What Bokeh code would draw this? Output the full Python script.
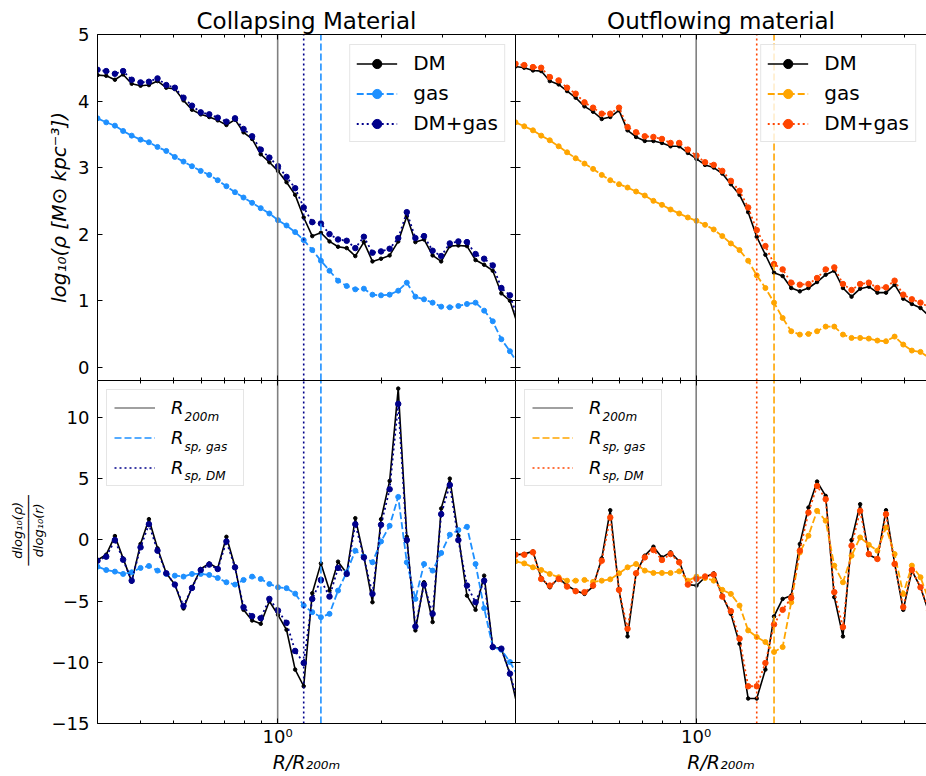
from bokeh.core.properties import value
from bokeh.embed import file_html
from bokeh.layouts import column, row
from bokeh.models import (FixedTicker, Grid, Label, Legend, LegendItem, LinearAxis,
                          LogAxis, Range1d)
from bokeh.plotting import figure
from bokeh.resources import INLINE

FONT = "DejaVu Sans"

# radial bins, R / R200m
r_bins = [0.300, 0.318, 0.337, 0.356, 0.377, 0.400, 0.423, 0.448, 0.475, 0.503,
          0.533, 0.564, 0.598, 0.633, 0.670, 0.710, 0.752, 0.796, 0.843, 0.893,
          0.946, 1.002, 1.061, 1.124, 1.190, 1.260, 1.335, 1.414, 1.497, 1.586,
          1.680, 1.779, 1.884, 1.995, 2.113, 2.238, 2.370, 2.510, 2.659, 2.816,
          2.982, 3.159, 3.345, 3.543, 3.752, 3.974, 4.209, 4.458, 4.721, 5.000]

# collapsing material: log10 density
dm_col_rho = [4.39, 4.38, 4.32, 4.40, 4.26, 4.23, 4.24, 4.30, 4.20, 4.18,
              4.01, 3.87, 3.80, 3.76, 3.71, 3.64, 3.72, 3.53, 3.43, 3.20,
              3.08, 2.95, 2.78, 2.59, 2.25, 1.97, 2.02, 1.89, 1.81, 1.79,
              1.67, 1.88, 1.59, 1.63, 1.68, 1.89, 2.27, 1.88, 1.92, 1.68,
              1.59, 1.82, 1.83, 1.82, 1.61, 1.54, 1.45, 1.11, 1.00, 0.60]
gas_col_rho = [3.74, 3.68, 3.63, 3.55, 3.48, 3.42, 3.38, 3.31, 3.25, 3.16,
               3.09, 3.02, 2.95, 2.89, 2.81, 2.72, 2.63, 2.55, 2.47, 2.39,
               2.31, 2.21, 2.13, 2.03, 1.91, 1.76, 1.60, 1.45, 1.30, 1.22,
               1.17, 1.18, 1.09, 1.08, 1.09, 1.15, 1.27, 1.06, 1.02, 0.97,
               0.91, 0.90, 0.92, 0.95, 0.97, 0.85, 0.69, 0.42, 0.24, 0.04]
dmgas_col_rho = [4.47, 4.45, 4.41, 4.45, 4.32, 4.28, 4.29, 4.34, 4.24, 4.20,
                 4.05, 3.93, 3.83, 3.80, 3.75, 3.69, 3.74, 3.58, 3.47, 3.27,
                 3.15, 3.02, 2.86, 2.69, 2.40, 2.18, 2.16, 2.00, 1.92, 1.90,
                 1.79, 1.96, 1.72, 1.74, 1.78, 1.94, 2.33, 1.94, 1.97, 1.75,
                 1.67, 1.86, 1.89, 1.88, 1.70, 1.63, 1.53, 1.19, 1.08, 0.70]

# collapsing material: logarithmic slope
dm_col_slope = [-1.65, -1.22, 0.30, -1.52, -3.42, -0.35, 1.68, -0.70, -2.74, -3.66,
                -5.61, -3.88, -2.39, -1.93, -2.33, 0.24, -2.20, -5.72, -6.59, -6.86,
                -5.02, -6.13, -7.35, -10.60, -11.96, -4.37, -1.93, -4.15, -1.79, -2.74,
                1.76, -1.38, -5.10, 1.68, 4.80, 12.34, 0.24, -7.40, -3.47, -6.72,
                2.55, 4.99, 0.33, -4.56, -5.72, -2.93, -8.76, -8.89, -10.93, -14.0]
gas_col_slope = [-2.20, -2.47, -2.60, -2.79, -2.66, -2.30, -2.14, -2.52, -2.79, -2.93,
                 -3.01, -2.79, -2.79, -2.87, -3.12, -3.47, -3.66, -3.28, -3.01, -3.20,
                 -3.61, -3.88, -3.95, -4.40, -5.37, -5.91, -6.32, -6.05, -4.15, -2.66,
                 -0.89, -1.38, -1.84, -0.14, 1.14, 3.50, -1.84, -4.83, -1.98, -2.52,
                 -1.08, 0.41, 0.79, 1.06, -1.98, -5.59, -8.76, -8.98, -9.98, -11.2]
dmgas_col_slope = [-1.71, -1.38, -0.03, -1.63, -3.34, -0.62, 1.27, -0.89, -2.74, -3.66,
                   -5.40, -3.93, -2.47, -2.03, -2.39, -0.14, -2.25, -5.50, -6.24, -6.40,
                   -4.83, -5.78, -6.78, -9.08, -10.06, -4.83, -3.28, -4.64, -2.30, -2.79,
                   1.27, -1.44, -4.42, 1.22, 4.12, 11.09, -0.03, -7.08, -3.66, -6.05,
                   2.09, 4.47, -0.03, -3.74, -5.10, -3.34, -8.76, -8.89, -10.93, -13.5]

# outflowing material: log10 density
dm_out_rho = [4.52, 4.50, 4.46, 4.45, 4.30, 4.25, 4.15, 4.05, 3.92, 3.84,
              3.73, 3.76, 3.86, 3.56, 3.46, 3.40, 3.40, 3.37, 3.32, 3.32,
              3.22, 3.13, 3.04, 3.00, 2.91, 2.75, 2.59, 2.33, 1.96, 1.69,
              1.42, 1.37, 1.19, 1.14, 1.19, 1.28, 1.39, 1.45, 1.19, 1.06,
              1.18, 1.21, 1.12, 1.12, 1.24, 1.03, 0.95, 0.89, 0.77, 0.70]
gas_out_rho = [3.68, 3.62, 3.56, 3.48, 3.41, 3.32, 3.23, 3.14, 3.06, 2.98,
               2.89, 2.81, 2.75, 2.70, 2.64, 2.58, 2.50, 2.44, 2.37, 2.31,
               2.25, 2.20, 2.14, 2.07, 1.97, 1.86, 1.76, 1.60, 1.38, 1.19,
               0.97, 0.74, 0.54, 0.49, 0.50, 0.54, 0.61, 0.61, 0.49, 0.44,
               0.44, 0.43, 0.40, 0.39, 0.46, 0.34, 0.25, 0.23, 0.14, 0.08]
dmgas_out_rho = [4.56, 4.54, 4.51, 4.50, 4.36, 4.31, 4.20, 4.11, 3.98, 3.90,
                 3.81, 3.81, 3.90, 3.61, 3.53, 3.47, 3.46, 3.43, 3.37, 3.37,
                 3.27, 3.18, 3.08, 3.04, 2.95, 2.80, 2.65, 2.40, 2.06, 1.82,
                 1.55, 1.47, 1.27, 1.24, 1.25, 1.34, 1.47, 1.50, 1.25, 1.16,
                 1.25, 1.27, 1.19, 1.20, 1.30, 1.09, 1.02, 0.97, 0.90, 0.82]

# outflowing material: logarithmic slope
dm_out_slope = [-1.22, -1.17, -0.95, -3.12, -3.88, -3.12, -3.74, -4.15, -4.42, -3.82,
                -1.52, 2.41, -4.15, -7.89, -2.74, -1.30, -0.57, -1.44, -1.03, -1.76,
                -3.66, -3.74, -3.06, -2.74, -4.56, -6.05, -8.49, -12.96, -12.96, -10.60,
                -6.26, -4.83, -4.56, -0.35, 2.63, 4.75, 3.58, -4.69, -7.89, -0.03,
                2.90, -1.22, -1.57, 2.41, -1.93, -5.72, -2.52, -3.88, -6.0, -6.5]
gas_out_slope = [-1.76, -1.93, -2.25, -2.47, -2.79, -3.06, -3.34, -3.34, -3.28, -3.44,
                 -3.34, -3.23, -2.74, -2.25, -1.98, -2.52, -2.71, -2.71, -2.71, -2.58,
                 -3.34, -3.01, -3.12, -3.34, -4.09, -4.42, -5.37, -7.40, -7.94, -8.35,
                 -9.16, -8.76, -5.10, -1.03, 0.33, 2.36, 1.55, -2.11, -3.47, -1.30,
                 0.19, -0.41, -0.89, 1.00, -1.17, -4.42, -2.11, -3.06, -5.0, -5.5]
dmgas_out_slope = [-1.22, -1.22, -1.03, -3.20, -3.74, -3.20, -3.82, -4.20, -4.28, -3.74,
                   -1.71, 1.82, -4.09, -7.27, -2.74, -1.44, -0.84, -1.65, -1.17, -1.84,
                   -3.66, -3.20, -3.00, -2.85, -4.64, -5.83, -8.08, -11.96, -11.96, -10.06,
                   -6.91, -5.72, -4.75, -0.89, 2.22, 4.39, 3.31, -4.28, -7.13, -0.49,
                   2.36, -1.17, -1.57, 2.09, -1.98, -5.50, -2.47, -3.88, -5.8, -6.3]

# characteristic radii, R / R200m
R200M = 1.0
RSP_GAS_COL = 1.335
RSP_DM_COL = 1.19
RSP_GAS_OUT = 1.68
RSP_DM_OUT = 1.497

X_MAJOR = [1.0]
X_MINOR = [0.3, 0.4, 0.5, 0.6, 0.7, 0.8, 0.9, 2.0, 3.0, 4.0]
RHO_TICKS = [0, 1, 2, 3, 4, 5]
SLOPE_TICKS = [-15, -10, -5, 0, 5, 10]
RHO_LIM = (-0.2, 5.0)
SLOPE_LIM = (-15.0, 13.0)

COLORS_COL = {"gas": "#1e90ff", "dmgas": "#00008b"}
COLORS_OUT = {"gas": "#ffa500", "dmgas": "#ff4500"}

# page geometry (px)
LEFT_W, RIGHT_W = 515, 411
TOP_H, BOTTOM_H = 380, 396
FRAC_W = 48


def no_grid(p):
    for g in p.select(type=Grid):
        g.visible = False


def style_ticks(ax, show_labels):
    ax.axis_line_color = "black"
    ax.axis_line_width = 1
    ax.major_tick_line_color = "black"
    ax.minor_tick_line_color = "black"
    ax.major_tick_in = 5
    ax.major_tick_out = 0
    ax.minor_tick_in = 3
    ax.minor_tick_out = 0
    ax.major_label_text_font = FONT
    ax.major_label_text_color = "black"
    if show_labels:
        ax.major_label_text_font_size = "18px"
    else:
        # tick marks only: tiny, fully transparent labels
        ax.major_label_text_font_size = "1px"
        ax.major_label_text_alpha = 0
        ax.major_label_standoff = 0


def x_axis(show_labels):
    ax = LogAxis(ticker=FixedTicker(ticks=X_MAJOR, minor_ticks=X_MINOR))
    style_ticks(ax, show_labels)
    ax.major_label_overrides = {1.0: "10\u2070"}
    if show_labels:
        ax.major_label_standoff = 2
        ax.axis_label = "R/R\u2082\u2080\u2080\u2098"
        ax.axis_label_text_font = FONT
        ax.axis_label_text_font_size = "19px"
        ax.axis_label_text_font_style = "italic"
        ax.axis_label_text_color = "black"
        ax.axis_label_standoff = 1
    return ax


def y_axis(ticks, show_labels):
    ax = LinearAxis(ticker=FixedTicker(ticks=ticks))
    style_ticks(ax, show_labels)
    ax.minor_tick_line_color = None
    ax.major_label_overrides = {float(t): str(t).replace("-", "\u2212") for t in ticks if t < 0}
    if show_labels:
        ax.major_label_standoff = 8
    return ax


def make_panel(width, height, x_end, ylim, yticks, left, top, bottom,
               left_labels, bottom_labels, right_axis):
    p = figure(width=width, height=height, x_axis_type="log",
               x_range=Range1d(0.3, x_end), y_range=Range1d(*ylim),
               x_axis_location=None, y_axis_location=None,
               toolbar_location=None, tools="", output_backend="svg",
               min_border=0, min_border_left=left, min_border_right=0,
               min_border_top=top, min_border_bottom=bottom)
    p.outline_line_color = None
    p.background_fill_color = "white"
    p.border_fill_color = "white"
    no_grid(p)
    p.add_layout(x_axis(bottom_labels), "below")
    p.add_layout(x_axis(False), "above")
    p.add_layout(y_axis(yticks, left_labels), "left")
    if right_axis:
        p.add_layout(y_axis(yticks, False), "right")
    return p


def text_strip(width, height):
    # bare canvas whose data units are pixels, used for an out-of-frame title
    p = figure(width=width, height=height, x_range=Range1d(0, width),
               y_range=Range1d(0, height), x_axis_location=None, y_axis_location=None,
               toolbar_location=None, tools="", output_backend="svg", min_border=0,
               title=None)
    p.outline_line_color = None
    p.background_fill_color = "white"
    p.border_fill_color = "white"
    no_grid(p)
    return p


def draw_series(p, dm, gas, dmgas, colors):
    l1 = p.line(r_bins, dm, line_color="black", line_width=1.6)
    s1 = p.scatter(r_bins, dm, size=3.5, fill_color="black", line_color="black")
    l2 = p.line(r_bins, gas, line_color=colors["gas"], line_width=1.8, line_dash="7 3")
    s2 = p.scatter(r_bins, gas, size=5, fill_color=colors["gas"], line_color=colors["gas"])
    l3 = p.line(r_bins, dmgas, line_color=colors["dmgas"], line_width=1.8, line_dash="2 3")
    s3 = p.scatter(r_bins, dmgas, size=5.5, fill_color=colors["dmgas"], line_color=colors["dmgas"])
    return [LegendItem(label=value("DM"), renderers=[l1, s1]),
            LegendItem(label=value("gas"), renderers=[l2, s2]),
            LegendItem(label=value("DM+gas"), renderers=[l3, s3])]


def draw_radii(p, ylim, rsp_gas, rsp_dm, colors):
    g0 = p.segment(x0=[R200M], y0=[ylim[0]], x1=[R200M], y1=[ylim[1]],
                   line_color="gray", line_width=1.6)
    g1 = p.segment(x0=[rsp_gas], y0=[ylim[0]], x1=[rsp_gas], y1=[ylim[1]],
                   line_color=colors["gas"], line_width=1.6, line_dash="7 3")
    g2 = p.segment(x0=[rsp_dm], y0=[ylim[0]], x1=[rsp_dm], y1=[ylim[1]],
                   line_color=colors["dmgas"], line_width=1.6, line_dash="2 3")
    return [g0, g1, g2]


def legend_style(leg):
    leg.border_line_color = "#cccccc"
    leg.border_line_width = 1
    leg.background_fill_color = "white"
    leg.background_fill_alpha = 0.8
    leg.glyph_width = 41
    leg.label_standoff = 16
    leg.label_text_font = FONT
    leg.label_text_color = "black"


def density_legend(p, items, margin):
    leg = Legend(items=items, location="top_right", margin=margin, padding=6,
                 spacing=6, glyph_height=23, label_height=23)
    legend_style(leg)
    leg.label_text_font_size = "20px"
    p.add_layout(leg)


def radii_legend(p, renderers):
    items = [LegendItem(label=value("R"), renderers=[r]) for r in renderers]
    leg = Legend(items=items, location="top_left", margin=9, padding=7,
                 spacing=9, glyph_height=21, label_height=21, label_width=65)
    legend_style(leg)
    # the box sits over empty plot area; keep it unfilled so the subscripts show
    leg.background_fill_alpha = 0
    leg.label_text_font_size = "18px"
    leg.label_text_font_style = "italic"
    p.add_layout(leg)
    subs = ["200m", "sp, gas", "sp, DM"]
    ys = [306.5, 277.0, 247.5]
    for s, y in zip(subs, ys):
        p.add_layout(Label(x=87, y=y, x_units="screen", y_units="screen", text=s,
                           text_font=FONT, text_font_size="12px",
                           text_font_style="italic", text_color="black",
                           text_align="left", text_baseline="alphabetic",
                           level="overlay"))


def set_title(p, text):
    p.title.text = text
    p.title.align = "center"
    p.title.text_font = FONT
    p.title.text_font_size = "23px"
    p.title.text_font_style = "normal"
    p.title.text_color = "black"
    p.title.standoff = 2


# ---- top left: collapsing material density
tl = make_panel(LEFT_W, TOP_H, 4.9, RHO_LIM, RHO_TICKS, 97, 34, 0, True, False, True)
set_title(tl, "Collapsing Material")
items = draw_series(tl, dm_col_rho, gas_col_rho, dmgas_col_rho, COLORS_COL)
draw_radii(tl, RHO_LIM, RSP_GAS_COL, RSP_DM_COL, COLORS_COL)
density_legend(tl, items, 10)
yax = tl.left[0]
yax.axis_label = "log\u2081\u2080(\u03c1 [M\u2299 kpc\u207b\u00b3])"
yax.axis_label_text_font = FONT
yax.axis_label_text_font_size = "20px"
yax.axis_label_text_font_style = "italic"
yax.axis_label_text_color = "black"
yax.axis_label_standoff = 4

# ---- top right: outflowing material density
tr = make_panel(RIGHT_W, TOP_H, 4.64, RHO_LIM, RHO_TICKS, 0, 34, 0, False, False, False)
set_title(tr, "Outflowing material")
items = draw_series(tr, dm_out_rho, gas_out_rho, dmgas_out_rho, COLORS_OUT)
draw_radii(tr, RHO_LIM, RSP_GAS_OUT, RSP_DM_OUT, COLORS_OUT)
density_legend(tr, items, 10)

# ---- slope axis title: stacked fraction d log10(rho) / d log10(r)
frac = text_strip(FRAC_W, BOTTOM_H)
for x, txt in [(17, "dlog\u2081\u2080(\u03c1)"), (28, "\u2500" * 9), (38, "dlog\u2081\u2080(r)")]:
    frac.add_layout(Label(x=x, y=223, text=txt, angle=90, angle_units="deg",
                          text_font=FONT, text_font_size="13px", text_font_style="italic",
                          text_color="black", text_align="center", text_baseline="middle",
                          level="overlay"))

# ---- bottom left: collapsing material slope
bl = make_panel(LEFT_W - FRAC_W, BOTTOM_H, 4.9, SLOPE_LIM, SLOPE_TICKS,
                97 - FRAC_W, 0, 53, True, True, True)
draw_series(bl, dm_col_slope, gas_col_slope, dmgas_col_slope, COLORS_COL)
radii_legend(bl, draw_radii(bl, SLOPE_LIM, RSP_GAS_COL, RSP_DM_COL, COLORS_COL))

# ---- bottom right: outflowing material slope
br = make_panel(RIGHT_W, BOTTOM_H, 4.64, SLOPE_LIM, SLOPE_TICKS, 0, 0, 53, False, True, False)
draw_series(br, dm_out_slope, gas_out_slope, dmgas_out_slope, COLORS_OUT)
radii_legend(br, draw_radii(br, SLOPE_LIM, RSP_GAS_OUT, RSP_DM_OUT, COLORS_OUT))

layout = column(row(tl, tr), row(frac, bl, br))
open("out.html", "w").write(file_html(layout, INLINE))
